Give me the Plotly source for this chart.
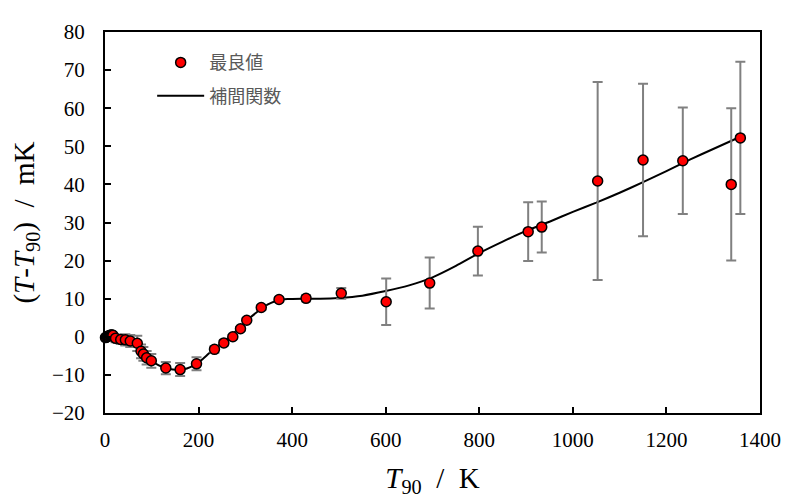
import plotly.graph_objects as go

# Best values (measured points)
t90 = [1, 3, 5, 7, 9, 11, 13, 15, 17, 22.5, 33.6, 43.5, 54, 69, 77, 82, 89, 99,
       130, 160.6, 195.6, 234, 254, 273.2, 289.6, 303, 334, 372, 429.7, 505,
       601, 694, 797, 904.5, 933.5, 1053, 1150, 1235, 1338.5, 1358]
dev = [-0.2, -0.1, 0.0, 0.2, 0.3, 0.4, 0.5, 0.5, 0.4, -0.4, -0.7, -0.8, -1.1, -1.7, -3.8, -4.5, -5.5, -6.3,
       -8.2, -8.6, -7.1, -3.3, -1.6, 0.0, 2.1, 4.35, 7.7, 9.8, 10.1, 11.4,
       9.2, 14.1, 22.5, 27.6, 28.8, 40.9, 46.4, 46.2, 40.0, 52.2]
err = [0.3, 0.3, 0.3, 0.3, 0.3, 0.3, 0.3, 0.3, 0.3, 1.0, 1.2, 1.5, 1.6, 2.0, 1.8, 1.8, 1.8, 1.8,
       1.6, 1.7, 1.7, 0.8, 0.7, 0.5, 0.5, 0.5, 0.6, 0.6, 0.8, 1.4,
       6.1, 6.7, 6.4, 7.7, 6.7, 26.0, 20.0, 14.0, 20.0, 20.0]

# Interpolating function
curve_t = [0, 10, 20, 30, 40, 50, 60, 70, 80, 90, 100, 115, 130, 145, 160, 175, 190, 205,
           220, 235, 250, 265, 280, 295, 310, 325, 340, 355, 370, 390, 420, 460, 500, 550,
           600, 650, 700, 750, 800, 850, 900, 950, 1000, 1050, 1100, 1150, 1200, 1250, 1300, 1358]
curve_v = [0, 0.4, 0.3, -0.3, -0.7, -1.0, -1.6, -2.8, -4.2, -5.4, -6.4, -7.5, -8.2, -8.6, -8.6,
           -8.3, -7.5, -6.2, -4.6, -3.0, -1.6, -0.2, 1.5, 3.3, 5.0, 6.5, 7.9, 8.9, 9.6, 9.9,
           10.0, 10.0, 10.2, 10.8, 12.0, 13.5, 15.6, 18.6, 22.0, 25.0, 27.8, 30.2, 32.8, 35.2,
           37.8, 40.6, 43.5, 46.5, 49.3, 52.5]

x_ticks = [0, 200, 400, 600, 800, 1000, 1200, 1400]
y_ticks = [-20, -10, 0, 10, 20, 30, 40, 50, 60, 70, 80]

serif = "Liberation Serif"

fig = go.Figure()
fig.add_trace(go.Scatter(
    x=curve_t, y=curve_v, mode="lines", name="補間関数",
    line=dict(color="black", width=2, shape="spline", smoothing=0.6),
    legendgroup="b", legendrank=2, hoverinfo="skip"))
fig.add_trace(go.Scatter(
    x=t90, y=dev, mode="markers", name="最良値",
    marker=dict(color="#ff0000", size=10, line=dict(color="black", width=1.5)),
    error_y=dict(type="data", array=err, color="#808080", thickness=2, width=5),
    cliponaxis=False, legendgroup="a", legendrank=1))

# the page body has an 8px default margin, so the figure is made 8px smaller
fig.update_layout(
    width=785, height=496,
    margin=dict(l=94, r=26, t=12, b=91),
    paper_bgcolor="white", plot_bgcolor="white",
    font=dict(family=serif, size=21, color="black"),
    legend=dict(x=0.072, y=0.968, xanchor="left", yanchor="top",
                bgcolor="rgba(0,0,0,0)", itemwidth=47, tracegroupgap=7,
                font=dict(family="Noto Sans CJK JP", size=18, color="#595959")),
    showlegend=True,
)
fig.update_xaxes(
    range=[0, 1400], tickvals=x_ticks, ticks="inside", ticklen=6, tickwidth=1.5,
    tickcolor="black", showline=True, linecolor="black", linewidth=2, mirror=True,
    showgrid=False, zeroline=False, ticklabelstandoff=7,
    title=dict(text="<i>T</i><sub>90</sub>  /  K", font=dict(family=serif, size=29), standoff=16))
fig.update_yaxes(
    range=[-20, 80], tickvals=y_ticks, ticks="inside", ticklen=6, tickwidth=1.5,
    tickcolor="black", showline=True, linecolor="black", linewidth=2, mirror=True,
    showgrid=False, zeroline=False, ticklabelstandoff=14,
    title=dict(text="(<i>T</i>-<i>T</i><sub>90</sub>)  /  mK", font=dict(family=serif, size=29), standoff=12))

fig.write_html("out.html")
